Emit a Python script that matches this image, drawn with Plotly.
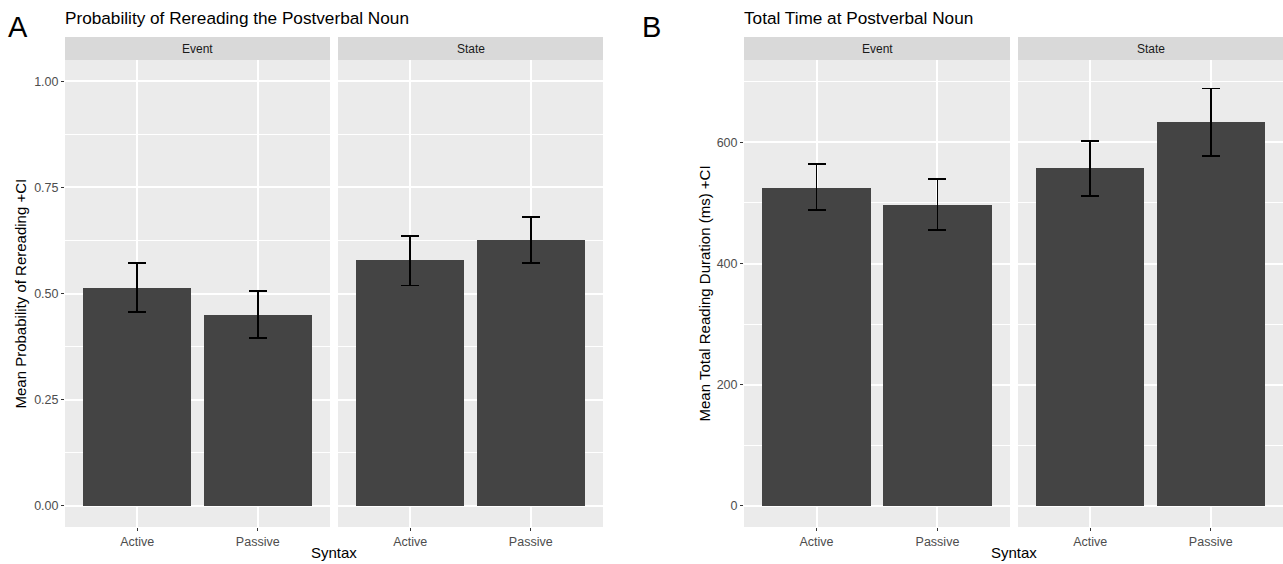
import plotly.graph_objects as go

W, H = 1283, 564

syntax = ["Active", "Passive"]
facets = ["Event", "State"]

# Panel A: probability of rereading (mean, CI lower, CI upper) per facet
prob_mean = {"Event": [0.514, 0.449], "State": [0.580, 0.627]}
prob_lo = {"Event": [0.457, 0.395], "State": [0.519, 0.572]}
prob_hi = {"Event": [0.572, 0.506], "State": [0.635, 0.680]}

# Panel B: total reading time (ms)
time_mean = {"Event": [524, 497], "State": [558, 634]}
time_lo = {"Event": [489, 455], "State": [512, 577]}
time_hi = {"Event": [564, 540], "State": [602, 689]}

titles = ["Probability of Rereading the Postverbal Noun", "Total Time at Postverbal Noun"]
ytitles = ["Mean Probability of Rereading +CI", "Mean Total Reading Duration (ms) +CI"]
panel_letters = ["A", "B"]

FONT = "Liberation Sans, Arial, sans-serif"
BAR = "#444444"
PANEL_BG = "#EBEBEB"
STRIP_BG = "#D9D9D9"

# pixel layout
facet_px = [(65, 330), (338, 603), (744, 1010), (1018, 1283)]
panel_top, panel_bot = 60, 527
strip_top = 37

def fx(px):
    return px / W

def fy(py):
    return (H - py) / H

fig = go.Figure()

datasets = [(prob_mean, prob_lo, prob_hi), (time_mean, time_lo, time_hi)]
k = 0
for p, (m, lo, hi) in enumerate(datasets):
    for f in facets:
        k += 1
        xa = "x" if k == 1 else f"x{k}"
        ya = "y" if k == 1 else f"y{k}"
        vals = m[f]
        fig.add_trace(go.Bar(
            x=syntax, y=vals, xaxis=xa, yaxis=ya, width=0.9,
            marker=dict(color=BAR, line=dict(width=0)),
            error_y=dict(type="data", symmetric=False,
                         array=[h - v for h, v in zip(hi[f], vals)],
                         arrayminus=[v - l for v, l in zip(vals, lo[f])],
                         color="black", thickness=1.8, width=9),
            showlegend=False, hoverinfo="skip",
        ))

layout = dict(
    width=W, height=H, margin=dict(l=0, r=0, t=0, b=0),
    paper_bgcolor="white", plot_bgcolor=PANEL_BG,
    font=dict(family=FONT, color="#4D4D4D", size=11),
    bargap=0, showlegend=False,
)

TICK = 12.5
yranges = [[-0.05, 1.05], [-35, 736]]
for k in range(1, 5):
    p = (k - 1) // 2
    x0, x1 = facet_px[k - 1]
    xkey = "xaxis" if k == 1 else f"xaxis{k}"
    ykey = "yaxis" if k == 1 else f"yaxis{k}"
    ya = "y" if k == 1 else f"y{k}"
    xa = "x" if k == 1 else f"x{k}"
    layout[xkey] = dict(
        domain=[fx(x0), fx(x1)], anchor=ya, type="category",
        categoryorder="array", categoryarray=syntax,
        range=[-0.6, 1.6], showgrid=True, gridcolor="white", gridwidth=1.5,
        zeroline=False, showline=False, ticks="outside", ticklen=3,
        tickwidth=1.1, tickcolor="#333333",
        tickfont=dict(family=FONT, size=TICK, color="#4D4D4D"),
    )
    first = (k % 2 == 1)
    yd = dict(
        domain=[fy(panel_bot), fy(panel_top)], anchor=xa, range=yranges[p],
        showgrid=True, gridcolor="white", gridwidth=1.5, zeroline=False,
        showline=False,
        ticks="outside" if first else "", ticklen=3, tickwidth=1.1,
        tickcolor="#333333", showticklabels=first,
        tickfont=dict(family=FONT, size=TICK, color="#4D4D4D"),
    )
    if p == 0:
        yd.update(tick0=0, dtick=0.25, tickformat=".2f",
                  minor=dict(dtick=0.125, showgrid=True, gridcolor="white",
                             gridwidth=0.6, ticks=""))
    else:
        yd.update(tick0=0, dtick=200,
                  minor=dict(dtick=100, showgrid=True, gridcolor="white",
                             gridwidth=0.6, ticks=""))
    if not first:
        yd["matches"] = "y" if p == 0 else "y3"
    layout[ykey] = yd

fig.update_layout(**layout)

# strips
for k in range(4):
    x0, x1 = facet_px[k]
    fig.add_shape(type="rect", xref="paper", yref="paper",
                  x0=fx(x0), x1=fx(x1), y0=fy(panel_top), y1=fy(strip_top),
                  fillcolor=STRIP_BG, line=dict(width=0), layer="below")
    fig.add_annotation(text=facets[k % 2], xref="paper", yref="paper",
                       x=fx((x0 + x1) / 2), y=fy((panel_top + strip_top) / 2),
                       showarrow=False, xanchor="center", yanchor="middle",
                       font=dict(family=FONT, size=12, color="#1A1A1A"))

# titles, axis titles, panel letters
for p in range(2):
    left = facet_px[2 * p][0]
    right = facet_px[2 * p + 1][1]
    fig.add_annotation(text=titles[p], xref="paper", yref="paper",
                       x=fx(left - 2), y=fy(18), showarrow=False,
                       xanchor="left", yanchor="middle",
                       font=dict(family=FONT, size=17.2, color="black"))
    fig.add_annotation(text="Syntax", xref="paper", yref="paper",
                       x=fx((left + right) / 2), y=fy(552), showarrow=False,
                       xanchor="center", yanchor="middle",
                       font=dict(family=FONT, size=15, color="black"))
    fig.add_annotation(text=ytitles[p], xref="paper", yref="paper",
                       x=fx(20 if p == 0 else 704),
                       y=fy((panel_top + panel_bot) / 2), showarrow=False,
                       textangle=-90, xanchor="center", yanchor="middle",
                       font=dict(family=FONT, size=15, color="black"))
    fig.add_annotation(text=panel_letters[p], xref="paper", yref="paper",
                       x=fx(18 if p == 0 else 651), y=fy(27), showarrow=False,
                       xanchor="center", yanchor="middle",
                       font=dict(family=FONT, size=29, color="black"))

fig.write_html(
    "out.html",
    config={"displayModeBar": False},
    post_script="document.body.style.margin='0';document.body.style.overflow='hidden';",
)
